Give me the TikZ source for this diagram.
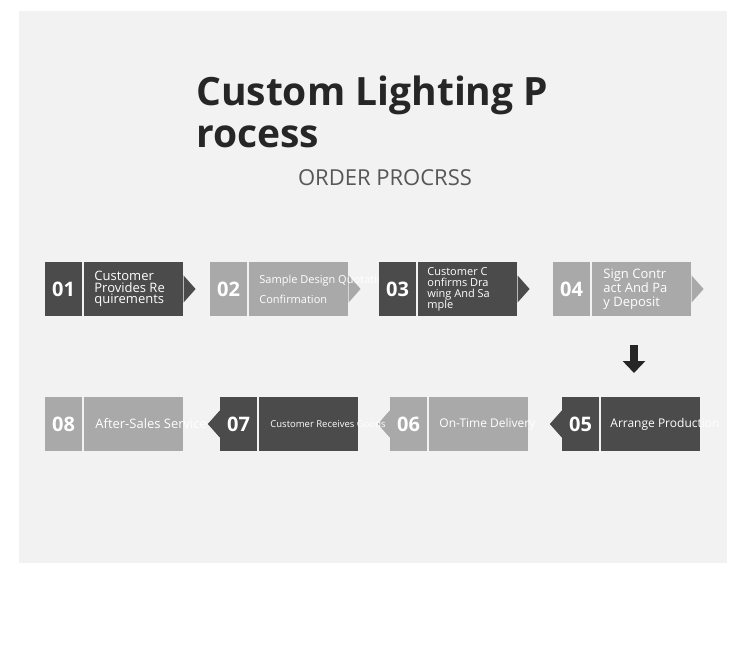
\documentclass[tikz,border=0pt]{standalone}
\usepackage{fontspec}
\setmainfont{Open Sans}
\usetikzlibrary{positioning,arrows.meta}

\definecolor{panel}{HTML}{F2F2F2}
\definecolor{darkstep}{HTML}{4B4B4B}
\definecolor{lightstep}{HTML}{A9A9A9}
\definecolor{subgray}{HTML}{575757}

% arrow tips on the side of a box
\newcommand{\tipright}[2]{\fill[#2] ([yshift=13.5pt]#1.east) -- ([xshift=12pt]#1.east) -- ([yshift=-13.5pt]#1.east) -- cycle;}
\newcommand{\tipleft}[2]{\fill[#2] ([yshift=13.5pt]#1.west) -- ([xshift=-12pt]#1.west) -- ([yshift=-13.5pt]#1.west) -- cycle;}

\tikzset{
  numbox/.style={minimum width=37pt, minimum height=54pt, inner sep=0pt,
    text=white, font=\bfseries\fontsize{20}{22}\selectfont},
  textbox/.style={minimum width=99pt, minimum height=54pt, inner sep=0pt},
  steptext/.style={anchor=west, inner sep=0pt, text=white, align=left},
}

\begin{document}
\begin{tikzpicture}[x=1pt,y=-1pt]
\useasboundingbox (0,0) rectangle (750,655);
\fill[panel] (19,11) rectangle (727,563);

% heading
\node[anchor=north west, inner sep=0pt, align=left, text=black!85,
  font=\bfseries\fontsize{39}{42}\selectfont] (title) at (196,76) {Custom Lighting P\\rocess};
\node[text=subgray, font=\fontsize{22}{24}\selectfont] (sub) at (385,178) {ORDER PROCRSS};

% first row
\node[numbox, fill=darkstep] (n1) at (63.5,289) {01};
\node[textbox, fill=darkstep, right=2pt of n1] (t1) {};
\tipright{t1}{darkstep}
\node[steptext, font=\fontsize{13}{11.5}\selectfont] (l1) at ([xshift=10pt]t1.west) {Customer\\Provides Re\\quirements};

\node[numbox, fill=lightstep] (n2) at (228.5,289) {02};
\node[textbox, fill=lightstep, right=2pt of n2] (t2) {};
\tipright{t2}{lightstep}
\node[steptext, font=\fontsize{11}{20}\selectfont] (l2) at ([xshift=10pt]t2.west) {Sample Design Quotation\\Confirmation};

\node[numbox, fill=darkstep] (n3) at (397.5,289) {03};
\node[textbox, fill=darkstep, right=2pt of n3] (t3) {};
\tipright{t3}{darkstep}
\node[steptext, font=\fontsize{11}{11}\selectfont] (l3) at ([xshift=9pt]t3.west) {Customer C\\onfirms Dra\\wing And Sa\\mple};

\node[numbox, fill=lightstep] (n4) at (571.5,289) {04};
\node[textbox, fill=lightstep, right=2pt of n4] (t4) {};
\tipright{t4}{lightstep}
\node[steptext, font=\fontsize{13}{14}\selectfont] (l4) at ([xshift=11pt]t4.west) {Sign Contr\\act And Pa\\y Deposit};

% turn down
\coordinate (dtop) at (634,345);
\coordinate (dbot) at (634,373);
\draw[line width=8pt, black!85, -{Triangle[width=22pt,length=12pt]}] (dtop) -- (dbot);

% second row
\node[numbox, fill=lightstep] (n6) at (408.5,424) {06};
\node[textbox, fill=lightstep, right=2pt of n6] (t6) {};
\tipleft{n6}{lightstep}
\node[steptext, font=\fontsize{12}{14}\selectfont] (l6) at ([xshift=10pt]t6.west) {On-Time Delivery};

\node[numbox, fill=darkstep] (n7) at (238.5,424) {07};
\node[textbox, fill=darkstep, right=2pt of n7] (t7) {};
\tipleft{n7}{darkstep}
\node[steptext, font=\fontsize{9.5}{12}\selectfont] (l7) at ([xshift=11pt]t7.west) {Customer Receives Goods};

\node[numbox, fill=darkstep] (n5) at (580.5,424) {05};
\node[textbox, fill=darkstep, right=2pt of n5] (t5) {};
\tipleft{n5}{darkstep}
\node[steptext, font=\fontsize{12}{14}\selectfont] (l5) at ([xshift=9pt]t5.west) {Arrange Production};

\node[numbox, fill=lightstep] (n8) at (63.5,424) {08};
\node[textbox, fill=lightstep, right=2pt of n8] (t8) {};
\node[steptext, font=\fontsize{13}{14}\selectfont] (l8) at ([xshift=11pt]t8.west) {After-Sales Service};

\end{tikzpicture}
\end{document}
